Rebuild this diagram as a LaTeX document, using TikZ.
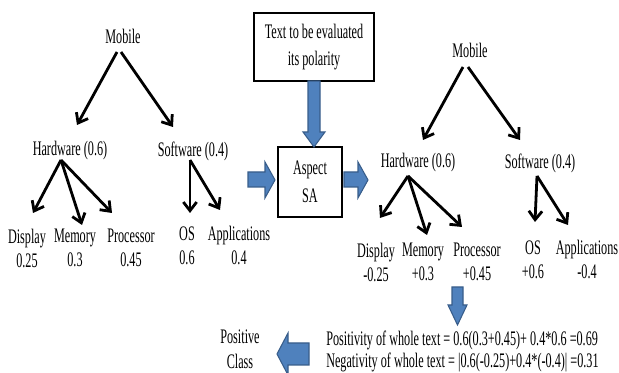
\documentclass[tikz,border=0pt]{standalone}
\usepackage{fontspec}
\setmainfont{Liberation Serif}[FakeStretch=0.59]
\usetikzlibrary{arrows.meta}
\definecolor{blockblue}{RGB}{79,129,189}
\definecolor{blockedge}{RGB}{56,93,138}
\tikzset{
  x=0.75pt, y=-0.75pt,
  lbl/.style={inner sep=0pt, align=center, font=\fontsize{15.5}{18}\selectfont},
  treearrow/.style={line width=2.1pt, -{Straight Barb[length=6.5pt,width=10pt,line width=2.1pt]}},
  stepbox/.style={draw, line width=1.1pt, align=center, inner sep=0pt,
                  font=\fontsize{15.5}{20}\selectfont},
  blockarrow/.style={fill=blockblue, draw=blockedge, line width=0.8pt},
}
\begin{document}
\begin{tikzpicture}
\useasboundingbox (0,0) rectangle (619,373);
\clip (0,0) rectangle (619,373);

% ---------- left tree: weights ----------
\node[lbl] (mobL) at (123,36) {Mobile};
\node[lbl] (hwL)  at (70,151) {Hardware (0.6)};
\node[lbl] (swL)  at (193,151) {Software (0.4)};
\node[lbl] (dispL) at (27,248)  {Display\\0.25};
\node[lbl] (memL)  at (75,248)  {Memory\\0.3};
\node[lbl] (procL) at (131,248) {Processor\\0.45};
\node[lbl] (osL)   at (187,246) {OS\\0.6};
\node[lbl] (appL)  at (239,245) {Applications\\0.4};

\coordinate (mobLa) at (117,52);  \coordinate (mobLb) at (121,52);
\coordinate (hwLin) at (77,125);  \coordinate (swLin) at (173,127);
\coordinate (hwLhub) at (61,160); \coordinate (swLhub) at (190,160);
\coordinate (dispLin) at (33,213); \coordinate (memLin) at (82,225);
\coordinate (procLin) at (112,213);
\coordinate (osLin) at (190,213);  \coordinate (appLin) at (220,210);

\draw[treearrow] (mobLa) -- (hwLin);
\draw[treearrow] (mobLb) -- (swLin);
\draw[treearrow] (hwLhub) -- (dispLin);
\draw[treearrow] (hwLhub) -- (memLin);
\draw[treearrow] (hwLhub) -- (procLin);
\draw[treearrow] (swLhub) -- (osLin);
\draw[treearrow] (swLhub) -- (appLin);

% ---------- input text and aspect SA ----------
\node[stepbox, minimum width=120*0.75pt, minimum height=68*0.75pt]
  (input) at (314,47) {Text to be evaluated\\its polarity};
\node[stepbox, minimum width=64*0.75pt, minimum height=70*0.75pt, font=\fontsize{15.5}{21}\selectfont]
  (aspect) at (310,182) {Aspect\\SA};

% ---------- right tree: polarities ----------
\node[lbl] (mobR) at (470,50) {Mobile};
\node[lbl] (hwR)  at (418,163) {Hardware (0.6)};
\node[lbl] (swR)  at (540,163) {Software (0.4)};
\node[lbl] (dispR) at (376,262) {Display\\-0.25};
\node[lbl] (memR)  at (423,262) {Memory\\+0.3};
\node[lbl] (procR) at (477,262) {Processor\\+0.45};
\node[lbl] (osR)   at (533,260) {OS\\+0.6};
\node[lbl] (appR)  at (587,259) {Applications\\-0.4};

\coordinate (mobRa) at (463,67);  \coordinate (mobRb) at (468,67);
\coordinate (hwRin) at (423,140); \coordinate (swRin) at (520,140);
\coordinate (hwRhub) at (408,176); \coordinate (swRhub) at (537,176);
\coordinate (dispRin) at (380,218); \coordinate (memRin) at (427,235);
\coordinate (procRin) at (462,227);
\coordinate (osRin) at (535,222);  \coordinate (appRin) at (568,225);

\draw[treearrow] (mobRa) -- (hwRin);
\draw[treearrow] (mobRb) -- (swRin);
\draw[treearrow] (hwRhub) -- (dispRin);
\draw[treearrow] (hwRhub) -- (memRin);
\draw[treearrow] (hwRhub) -- (procRin);
\draw[treearrow] (swRhub) -- (osRin);
\draw[treearrow] (swRhub) -- (appRin);

% ---------- result ----------
\node[lbl, anchor=west, align=left, font=\fontsize{15.5}{16.5}\selectfont] (score) at (326,351)
  {Positivity of whole text = 0.6(0.3+0.45)+ 0.4*0.6 =0.69\\
   Negativity of whole text = |0.6(-0.25)+0.4*(-0.4)| =0.31};
\node[lbl, font=\fontsize{15.5}{19}\selectfont] (cls) at (240,349) {Positive\\Class};

% ---------- block arrows ----------
% input -> aspect (down)
\path[blockarrow] (308,81) -- (320,81) -- (320,132) -- (325,132) -- (314,147)
  -- (303,132) -- (308,132) -- cycle;
% left tree -> aspect (right)
\path[blockarrow] (248,172) -- (265,172) -- (265,162) -- (275,180) -- (265,198)
  -- (265,187) -- (248,187) -- cycle;
% aspect -> right tree (right)
\path[blockarrow] (344,172) -- (358,172) -- (358,162) -- (368,180) -- (358,198)
  -- (358,187) -- (344,187) -- cycle;
% right tree -> score (down)
\path[blockarrow] (452,287) -- (463,287) -- (463,305) -- (467,305) -- (457.5,325)
  -- (448,305) -- (452,305) -- cycle;
% score -> class (left)
\path[blockarrow] (309,343) -- (288,343) -- (288,333) -- (277,354) -- (288,375)
  -- (288,365) -- (309,365) -- cycle;
\end{tikzpicture}
\end{document}
